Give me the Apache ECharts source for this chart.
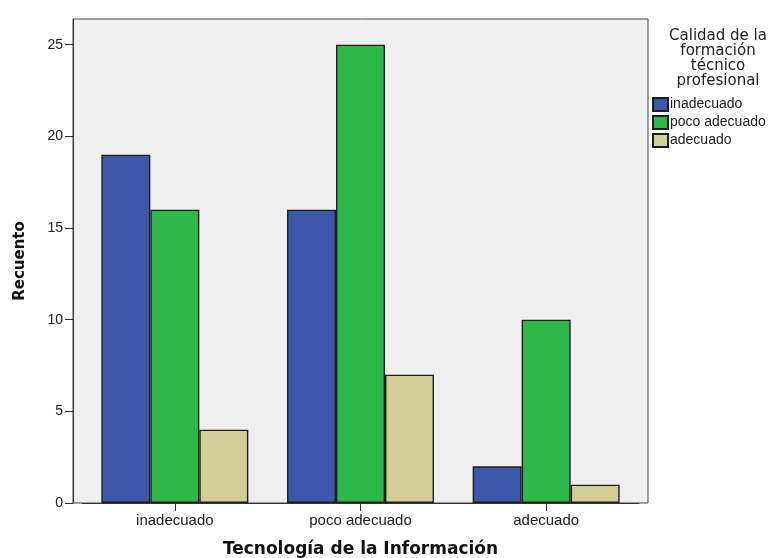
<!DOCTYPE html>
<html>
<head>
<meta charset="utf-8">
<script src="https://cdn.jsdelivr.net/npm/echarts@6/dist/echarts.min.js"></script>
<style>html,body{margin:0;padding:0;background:#fff;}#c{width:777px;height:558px;}</style>
</head>
<body>
<div id="c"></div>
<script>
var categories = ['inadecuado', 'poco adecuado', 'adecuado'];
var seriesNames = ['inadecuado', 'poco adecuado', 'adecuado'];
var inadecuado = [19, 16, 2];
var pocoAdecuado = [16, 25, 10];
var adecuado = [4, 7, 1];
var yTicks = [0, 5, 10, 15, 20, 25];
var colors = ['#3d57aa', '#2eb84a', '#d3ce97'];
var legendTitle = 'Calidad de la\nformación\ntécnico\nprofesional';
var xTitle = 'Tecnología de la Información';
var yTitle = 'Recuento';

var FONT = '"Liberation Sans", Arial, sans-serif';
var WIDE = '"DejaVu Sans", sans-serif';
var chart = echarts.init(document.getElementById('c'));
var values = [inadecuado, pocoAdecuado, adecuado];
chart.setOption({
  animation: false,
  textStyle: { fontFamily: FONT },
  title: {
    text: legendTitle,
    left: 713, top: 24, textAlign: 'center',
    textStyle: { fontFamily: WIDE, fontSize: 15, fontWeight: 'normal', color: '#222', lineHeight: 15 }
  },
  legend: {
    orient: 'vertical', left: 647, top: 92, itemGap: 3,
    itemWidth: 15, itemHeight: 13, icon: 'rect',
    textStyle: { fontFamily: FONT, fontSize: 14, lineHeight: 14, color: '#222', padding: [0, 0, 0, -3] },
    data: seriesNames
  },
  graphic: [{
    type: 'rect', z: -10, silent: true,
    shape: { x: 73, y: 19, width: 575, height: 484 },
    style: { fill: '#efefef', stroke: '#444', lineWidth: 1 }
  }],
  grid: { left: 82, right: 138, top: 19, bottom: 55, outerBoundsMode: 'none', containLabel: false },
  xAxis: {
    type: 'category', data: categories,
    name: xTitle, nameLocation: 'middle', nameGap: 38,
    nameTextStyle: { fontFamily: WIDE, fontSize: 17, fontWeight: 'bold', color: '#111' },
    axisLine: { show: true, lineStyle: { color: '#333' } },
    axisTick: { show: true, alignWithLabel: true, length: 8, lineStyle: { color: '#333' } },
    axisLabel: { fontFamily: FONT, fontSize: 15, color: '#222', margin: 10 }
  },
  yAxis: {
    type: 'value', min: 0, max: 26.4, interval: 5, offset: 9,
    name: yTitle, nameLocation: 'middle', nameGap: 45,
    nameTextStyle: { fontFamily: WIDE, fontSize: 15, fontWeight: 'bold', color: '#111' },
    axisLine: { show: true, lineStyle: { color: '#333' } },
    axisTick: { show: true, length: 8, customValues: yTicks, lineStyle: { color: '#333' } },
    axisLabel: { fontFamily: FONT, fontSize: 14, color: '#222', margin: 10, customValues: yTicks },
    splitLine: { show: false }
  },
  series: seriesNames.map(function (n, i) {
    return {
      name: n, type: 'bar', data: values[i],
      barWidth: 49, barGap: '0%',
      itemStyle: { color: colors[i], borderColor: '#1e1e1e', borderWidth: 1.4 }
    };
  })
});
</script>
</body>
</html>
